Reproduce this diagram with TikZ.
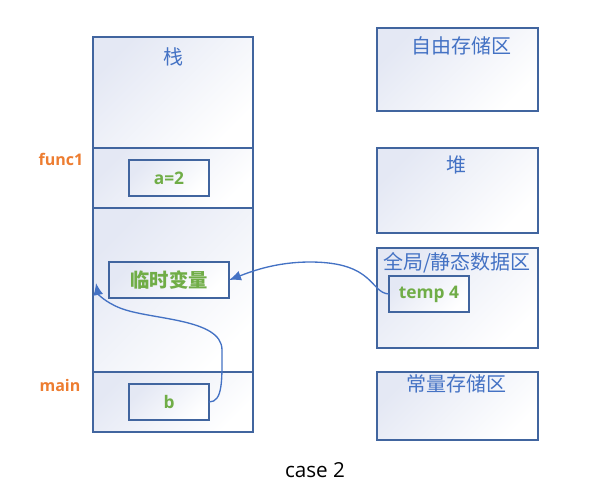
\documentclass[tikz,border=0pt]{standalone}
\usepackage{fontspec}
\setmainfont{Open Sans}
\newfontfamily\cjk{Noto Sans CJK SC}
\usetikzlibrary{arrows.meta}
\definecolor{bordc}{HTML}{41659F}
\definecolor{txtblue}{HTML}{4472C4}
\definecolor{txtgreen}{HTML}{70AD47}
\definecolor{txtorange}{HTML}{ED7D31}
\definecolor{shadec}{HTML}{E4E8F4}
\newcommand\cellbox[6]{\node[#6, minimum width={(#4-#2)*0.75pt}, minimum height={(#5-#3)*0.75pt}] (#1) at ({(#2+#4)/2},{(#3+#5)/2}) {};}
\tikzset{
  memcell/.style={draw=bordc, line width=1pt, inner sep=0pt, outer sep=0pt, top color=shadec, bottom color=white, shading angle=45},
  varbox/.style={memcell},
  areatitle/.style={text=txtblue, font=\cjk\fontsize{15}{17}\selectfont, inner sep=0pt},
  vartext/.style={text=txtgreen, font=\bfseries\fontsize{13}{15}\selectfont, inner sep=0pt},
  cjkvar/.style={text=txtgreen, font=\cjk\bfseries\fontsize{14.5}{16}\selectfont, inner sep=0pt},
  framelabel/.style={text=txtorange, font=\bfseries\fontsize{12}{14}\selectfont, inner sep=0pt},
  conn/.style={draw=txtblue, line width=1pt, -{Latex[length=9pt,width=7.5pt]}},
}
\begin{document}
\begin{tikzpicture}[x=0.75pt,y=-0.75pt]
\useasboundingbox (0,0) rectangle (599,501);
% stack sections
\cellbox{stacktop}{93}{37}{253}{148}{memcell}
\cellbox{func}{93}{148}{253}{208}{memcell}
\cellbox{mid}{93}{208}{253}{372}{memcell}
\cellbox{mainsec}{93}{372}{253}{432}{memcell}
\node[areatitle] (zhan) at (173,57) {栈};
% variables in stack
\cellbox{abox}{129}{160}{209}{196}{varbox}
\node[vartext] (atext) at (abox.center) {a=2};
\cellbox{tmp}{109}{262}{229}{298}{varbox}
\node[cjkvar] (tmptext) at (tmp.center) {临时变量};
\cellbox{bbox}{129}{384}{209}{420}{varbox}
\node[vartext] (btext) at (bbox.center) {b};
% frame labels
\node[framelabel] (func1) at (61,159) {func1};
\node[framelabel] (mainl) at (60,385) {main};
% right areas
\cellbox{free}{377}{28}{538}{111}{memcell}
\node[areatitle] (freet) at (461,46) {自由存储区};
\cellbox{heap}{377}{148}{538}{233}{memcell}
\node[areatitle] (heapt) at (456,165) {堆};
\cellbox{glob}{377}{248}{538}{348}{memcell}
\node[areatitle] (globt) at (457,263) {全局/静态数据区};
\cellbox{temp}{389}{276}{469}{312}{varbox}
\node[vartext] (temptext) at (temp.center) {temp 4};
\cellbox{const}{377}{372}{538}{440}{memcell}
\node[areatitle] (constt) at (456,384) {常量存储区};
% caption
\node[font=\fontsize{15.5}{17}\selectfont, inner sep=0pt] (caption) at (315,470) {case 2};
% connectors
\draw[conn] (temp.west) .. controls (370,293) and (375,262) .. (310,262) .. controls (275,262) and (250,272) .. (tmp.east);
\coordinate (tipb) at (96,283);
\draw[conn] (bbox.east) .. controls (223,402) and (222,380) .. (222,350) .. controls (222,318) and (150,320) .. (120,308) .. controls (105,302) and (98,294) .. (tipb);
\end{tikzpicture}
\end{document}
